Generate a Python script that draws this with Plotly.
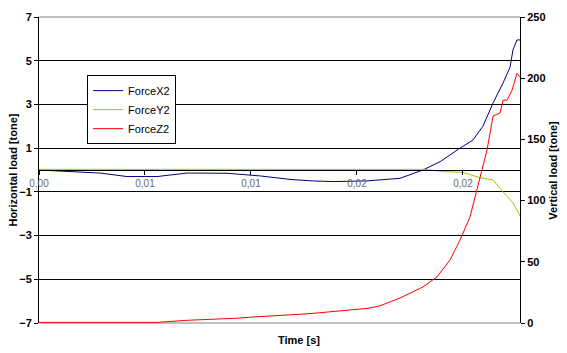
import plotly.graph_objects as go

# Time [s]
t_x = [0, 0.00179, 0.00288, 0.00415, 0.00557, 0.00698, 0.00887, 0.01042, 0.01184,
       0.01292, 0.01387, 0.01547, 0.01642, 0.01703, 0.01811, 0.01892, 0.01986,
       0.02047, 0.02094, 0.02142, 0.02189, 0.02222, 0.02236, 0.02255, 0.02269]
force_x2 = [0, -0.08, -0.14, -0.3, -0.3, -0.14, -0.15, -0.27, -0.43,
            -0.5, -0.53, -0.5, -0.43, -0.38, 0.0, 0.38, 1.0,
            1.37, 2.0, 3.07, 3.98, 4.7, 5.5, 5.95, 5.95]

t_y = [0, 0.0142, 0.01434, 0.01476, 0.01495, 0.01821, 0.01906, 0.02000, 0.02080,
       0.02142, 0.02189, 0.02236, 0.02269]
force_y2 = [0.03, 0.03, 0.06, 0.06, 0.03, 0.03, -0.07, -0.11, -0.35,
            -0.46, -1.0, -1.5, -2.1]

t_z = [0, 0.00557, 0.00698, 0.00797, 0.00934, 0.01009, 0.01099, 0.01184, 0.01255,
       0.01325, 0.0142, 0.01491, 0.01552, 0.01608, 0.01656, 0.01703, 0.01811,
       0.01877, 0.01939, 0.01986, 0.02033, 0.02066, 0.0208, 0.02113, 0.02142,
       0.02175, 0.02189, 0.02208, 0.02231, 0.02255, 0.02269]
force_z2 = [0.5, 0.5, 2.2, 2.7, 3.9, 4.9, 5.7, 6.8, 7.4,
            8.4, 9.8, 10.9, 12.0, 14.0, 17, 20.4, 29.4,
            37.6, 51.5, 67.8, 86.6, 108.7, 119, 141, 169,
            171.6, 182, 182, 190, 204, 201]

x_tickvals = [0, 0.005, 0.010, 0.015, 0.020]
x_ticktext = ["0,00", "0,01", "0,01", "0,02", "0,02"]
left_ticks = [-7, -5, -3, -1, 1, 3, 5, 7]
right_ticks = [0, 50, 100, 150, 200, 250]

FONT = "Arial, Liberation Sans, sans-serif"

fig = go.Figure()
fig.add_trace(go.Scatter(x=t_x, y=force_x2, name="ForceX2", mode="lines",
                         line=dict(color="#000080", width=1)))
fig.add_trace(go.Scatter(x=t_y, y=force_y2, name="ForceY2", mode="lines",
                         line=dict(color="#99CC00", width=1)))
fig.add_trace(go.Scatter(x=t_z, y=force_z2, name="ForceZ2", mode="lines",
                         line=dict(color="#FF0000", width=1), yaxis="y2"))

fig.update_layout(
    width=567, height=353,
    margin=dict(l=39, r=47, t=17, b=30),
    paper_bgcolor="white", plot_bgcolor="white",
    font=dict(family=FONT, size=11, color="black"),
    showlegend=True,
    legend=dict(x=0.1, y=0.81, xanchor="left", yanchor="top",
                bgcolor="white", bordercolor="black", borderwidth=1,
                font=dict(family=FONT, size=11, color="black"),
                tracegroupgap=0, itemwidth=30, entrywidth=87),
    xaxis=dict(range=[0, 0.02269], tickvals=x_tickvals, ticktext=x_ticktext,
               anchor="free", position=0.5, showline=True, linecolor="black",
               linewidth=1, ticks="outside", ticklen=4, tickcolor="black",
               showgrid=False, zeroline=False,
               tickfont=dict(family=FONT, size=10, color="#6a6a6a")),
    yaxis=dict(range=[-7, 7], tickvals=left_ticks, showgrid=True,
               gridcolor="black", gridwidth=1, zeroline=False,
               showline=True, linecolor="black", linewidth=1,
               ticks="outside", ticklen=4, tickcolor="black",
               tickfont=dict(family=FONT, size=11, color="black", weight="bold")),
    yaxis2=dict(range=[0, 250], tickvals=right_ticks, overlaying="y", side="right",
                showgrid=False, zeroline=False, showline=True, linecolor="black",
                linewidth=1, ticks="outside", ticklen=4, tickcolor="black",
                tickfont=dict(family=FONT, size=11, color="black", weight="bold")),
    shapes=[
        dict(type="line", xref="paper", yref="paper", x0=0, x1=1, y0=1, y1=1,
             line=dict(color="#808080", width=1), layer="between"),
        dict(type="line", xref="paper", yref="paper", x0=0, x1=1, y0=0, y1=0,
             line=dict(color="#808080", width=1), layer="between"),
    ],
    annotations=[
        dict(text="<b>Time [s]</b>", xref="paper", yref="paper", x=0.54, y=-0.055,
             xanchor="center", yanchor="middle", showarrow=False,
             font=dict(family=FONT, size=11, color="black")),
        dict(text="<b>Horizontal load [tone]</b>", xref="paper", yref="paper",
             x=-0.055, y=0.5, xanchor="center", yanchor="middle", textangle=-90,
             showarrow=False, font=dict(family=FONT, size=11, color="black")),
        dict(text="<b>Vertical load [tone]</b>", xref="paper", yref="paper",
             x=1.068, y=0.5, xanchor="center", yanchor="middle", textangle=-90,
             showarrow=False, font=dict(family=FONT, size=11, color="black")),
    ],
)

fig.write_html("out.html")
